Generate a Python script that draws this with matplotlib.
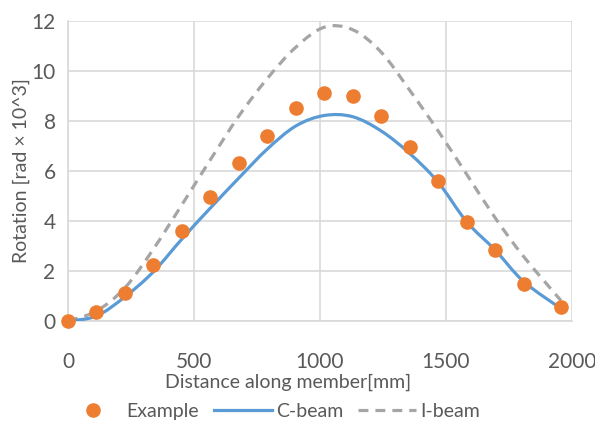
import numpy as np
import matplotlib
matplotlib.use("Agg")
import matplotlib.pyplot as plt
from matplotlib.path import Path
from matplotlib.patches import PathPatch
from matplotlib.lines import Line2D

plt.rcParams['font.family'] = ['Lato', 'DejaVu Sans']

# Data
example_x = [0, 113, 226, 339, 452, 565, 678, 791, 904, 1017, 1130, 1243, 1356, 1469, 1582, 1695, 1808, 1956]
example_y = [0, 0.38, 1.12, 2.24, 3.61, 4.98, 6.33, 7.4, 8.53, 9.11, 8.99, 8.19, 6.95, 5.59, 3.97, 2.84, 1.47, 0.56]

line_x = [0, 113, 226, 339, 452, 565, 678, 791, 904, 1017, 1130, 1243, 1356, 1469, 1582, 1695, 1808, 1956]
cbeam_y = [0, 0.2, 0.97, 1.97, 3.28, 4.52, 5.72, 6.88, 7.8, 8.22, 8.17, 7.6, 6.7, 5.55, 3.97, 2.84, 1.58, 0.5]
ibeam_y = [0, 0.4, 1.33, 2.88, 4.65, 6.45, 8.2, 9.7, 10.95, 11.75, 11.65, 10.75, 9.23, 7.6, 5.87, 4.13, 2.58, 0.82]

x_ticks = [0, 500, 1000, 1500, 2000]
y_ticks = [0, 2, 4, 6, 8, 10, 12]

TXT = '#595959'
ORANGE = '#ED7D31'
BLUE = '#5B9BD5'
GRAY = '#A5A5A5'
GRID = '#D9D9D9'
DASH = (0, (3.1, 2.2))


def smooth_path(xs, ys):
    p = np.column_stack([xs, ys]).astype(float)
    n = len(p)
    verts = [p[0]]
    codes = [Path.MOVETO]
    for i in range(n - 1):
        p0 = p[i - 1] if i > 0 else p[i]
        p1 = p[i]
        p2 = p[i + 1]
        p3 = p[i + 2] if i + 2 < n else p[i + 1]
        c1 = p1 + (p2 - p0) / 6.0
        c2 = p2 - (p3 - p1) / 6.0
        verts += [c1, c2, p2]
        codes += [Path.CURVE4] * 3
    return Path(verts, codes)


fig = plt.figure(figsize=(5.95, 4.23), dpi=100)
ax = fig.add_axes([0.1143, 0.2411, 0.8470, 0.7093])

ax.set_xlim(0, 2000)
ax.set_ylim(0, 12)
ax.set_xticks(x_ticks)
ax.set_yticks(y_ticks)
ax.grid(True, color=GRID, linewidth=1.2)
ax.set_axisbelow(True)
for s in ['top', 'right']:
    ax.spines[s].set_visible(False)
for s in ['left', 'bottom']:
    ax.spines[s].set_color(GRID)
    ax.spines[s].set_linewidth(1.2)
ax.tick_params(length=0, labelsize=15, labelcolor=TXT)
ax.tick_params(axis='y', pad=9)
ax.tick_params(axis='x', pad=22)

ax.add_patch(PathPatch(smooth_path(line_x, ibeam_y), fill=False, edgecolor=GRAY,
                       linewidth=2.3, linestyle=DASH, capstyle='butt', zorder=3))
ax.add_patch(PathPatch(smooth_path(line_x, cbeam_y), fill=False, edgecolor=BLUE,
                       linewidth=2.3, zorder=4))
ax.plot(example_x, example_y, 'o', color=ORANGE, markersize=9.5, zorder=5, clip_on=False)

ax.set_xlabel('Distance along member[mm]', fontsize=14, color=TXT, va='center')
ax.xaxis.set_label_coords(0.437, -0.203)
ax.set_ylabel('Rotation [rad × 10^3]', fontsize=14, color=TXT, va='center')
ax.yaxis.set_label_coords(-0.093, 0.503)

handles = [Line2D([], [], linestyle='none', marker='o', color=ORANGE, markersize=9.5),
           Line2D([], [], color=BLUE, linewidth=2.3),
           Line2D([], [], color=GRAY, linewidth=2.3, linestyle=DASH)]
fig.legend(handles, ['Example', 'C-beam', 'I-beam'], loc='center', bbox_to_anchor=(0.457, 0.028),
           ncol=3, frameon=False, fontsize=14, labelcolor=TXT, handlelength=3.0,
           columnspacing=0.75, handletextpad=0.2, borderpad=0)

fig.savefig('out.png', dpi=100)
